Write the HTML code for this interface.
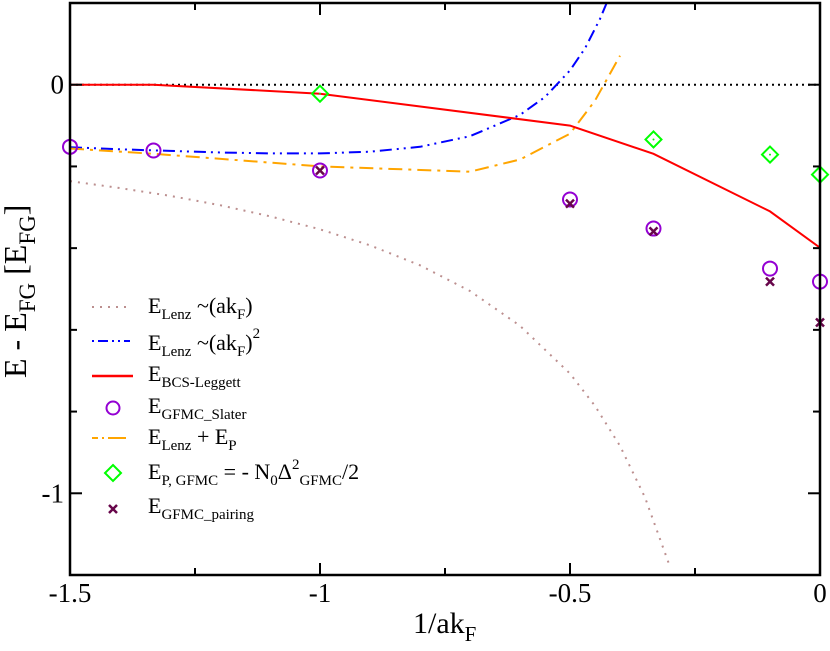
<!DOCTYPE html>
<html><head><meta charset="utf-8"><style>
body{margin:0;background:#fff}
svg text{font-family:"Liberation Serif",serif}
</style></head><body>
<svg id="chart" width="830" height="646" xmlns="http://www.w3.org/2000/svg">
<g id="plot"></g>
<g id="axes"></g>
<g id="legend"></g>
</svg>
<script>
const lenzX=[-1.5,-1.4,-1.3,-1.2,-1.1,-1.0,-0.9,-0.8,-0.7,-0.6,-0.5,-0.45,-0.4,-0.35,-0.3];
const lenzY=[-0.236,-0.253,-0.272,-0.295,-0.322,-0.354,-0.393,-0.442,-0.505,-0.590,-0.707,-0.786,-0.884,-1.01,-1.18];
const lenz2X=[-1.5,-1.4,-1.3,-1.2,-1.1,-1.0,-0.9,-0.8,-0.7,-0.6,-0.55,-0.5,-0.47,-0.44,-0.425];
const lenz2Y=[-0.153,-0.158,-0.162,-0.166,-0.168,-0.168,-0.164,-0.152,-0.126,-0.074,-0.030,0.035,0.089,0.161,0.205];
const bcsX=[-1.5,-1.333,-1.0,-0.5,-0.333,-0.1,0];
const bcsY=[0,0,-0.022,-0.1,-0.169,-0.31,-0.399];
const lpX=[-1.5,-1.333,-1.0,-0.7,-0.6,-0.5,-0.45,-0.4];
const lpY=[-0.156,-0.169,-0.2,-0.213,-0.183,-0.12,-0.039,0.071];
const slaterX=[-1.5,-1.333,-1.0,-0.5,-0.333,-0.1,0];
const slaterY=[-0.152,-0.161,-0.21,-0.281,-0.352,-0.45,-0.482];
const pairX=[-1.0,-0.5,-0.333,-0.1,0];
const pairY=[-0.21,-0.291,-0.359,-0.482,-0.582];
const gapX=[-1.0,-0.333,-0.1,0];
const gapY=[-0.022,-0.134,-0.171,-0.22];
const xTicks=[-1.5,-1,-0.5,0];
const xTickLabels=["-1.5","-1","-0.5","0"];
const yTicks=[0,-1];
const yTickLabels=["0","-1"];

const L=70,R=820,T=3,B=575,x0=-1.5,x1=0,y0=-1.2,y1=0.2;
const sx=v=>L+(v-x0)/(x1-x0)*(R-L);
const sy=v=>B-(v-y0)/(y1-y0)*(B-T);
const NS="http://www.w3.org/2000/svg";
function mk(tag,attrs,parent){const e=document.createElementNS(NS,tag);for(const k in attrs)e.setAttribute(k,attrs[k]);parent.appendChild(e);return e;}
const plot=document.getElementById('plot'),axes=document.getElementById('axes'),leg=document.getElementById('legend');
const clip=mk('clipPath',{id:'cp'},plot);mk('rect',{x:L,y:T,width:R-L,height:B-T},clip);
const pg=mk('g',{'clip-path':'url(#cp)'},plot);

let z=mk('line',{x1:L,y1:sy(0),x2:R,y2:sy(0),stroke:'#000','stroke-width':2,'stroke-dasharray':'2,4'},pg);



function line(xs,ys,color,dash,w,name){
  const d=xs.map((v,i)=>(i?'L':'M')+sx(v).toFixed(1)+','+sy(ys[i]).toFixed(1)).join('');
  const p=mk('path',{d:d,fill:'none',stroke:color,'stroke-width':w,'stroke-dasharray':dash},pg);
  
  
}
line(lenzX,lenzY,'#bc8f8f','2,6',2,'lenz-linear-line');
line(lenz2X,lenz2Y,'#0000ff','12,5,2,5,2,5',2,'lenz-quadratic-line');
line(lpX,lpY,'#ffa500','14,6,3,6',2,'lenz-plus-pairing-line');
line(bcsX,bcsY,'#ff0000','',2,'bcs-leggett-line');

function circle(cx,cy,g){return mk('circle',{cx:cx,cy:cy,r:7,fill:'none',stroke:'#9400d3','stroke-width':2},g);}
function diamond(cx,cy,g){const gg=mk('g',{},g);mk('path',{d:`M${cx},${cy-8}L${cx+8},${cy}L${cx},${cy+8}L${cx-8},${cy}Z`,fill:'none',stroke:'#00ff00','stroke-width':2},gg);mk('circle',{cx:cx,cy:cy,r:1,fill:'#00ff00'},gg);return gg;}
function cross(cx,cy,g){return mk('path',{d:`M${cx-4},${cy-4}L${cx+4},${cy+4}M${cx+4},${cy-4}L${cx-4},${cy+4}`,stroke:'#67064a','stroke-width':2.5},g);}
slaterX.forEach((v,i)=>{const c=circle(sx(v),sy(slaterY[i]),plot);
  
  });
gapX.forEach((v,i)=>{const c=diamond(sx(v),sy(gapY[i]),plot);
  
  });
pairX.forEach((v,i)=>{const c=cross(sx(v),sy(pairY[i]),plot);
  
  });

let fr=mk('rect',{x:L,y:T,width:R-L,height:B-T,fill:'none',stroke:'#000','stroke-width':2.5},axes);


for(let v=-1.5;v<=0.001;v+=0.25){const major=Math.abs(v*2-Math.round(v*2))<1e-6;const len=major?12:7;
  mk('line',{x1:sx(v),y1:B,x2:sx(v),y2:B-len,stroke:'#000','stroke-width':2},axes);
  mk('line',{x1:sx(v),y1:T,x2:sx(v),y2:T+len,stroke:'#000','stroke-width':2},axes);}
for(let v=-1.2;v<=0.201;v+=0.2){const major=Math.abs(v-Math.round(v))<1e-6;const len=major?12:7;
  mk('line',{x1:L,y1:sy(v),x2:L+len,y2:sy(v),stroke:'#000','stroke-width':2},axes);
  mk('line',{x1:R,y1:sy(v),x2:R-len,y2:sy(v),stroke:'#000','stroke-width':2},axes);}
xTicks.forEach((v,i)=>{const t=mk('text',{x:sx(v),y:602,'text-anchor':'middle','font-size':27},axes);t.textContent=xTickLabels[i];
  
  });
yTicks.forEach((v,i)=>{const t=mk('text',{x:64,y:sy(v)+9,'text-anchor':'end','font-size':27},axes);t.textContent=yTickLabels[i];
  
  });
</script>
<svg width="830" height="646" style="position:absolute;left:0;top:0" xmlns="http://www.w3.org/2000/svg">
<text x="413" y="633" font-size="30" font-family="Liberation Serif,serif">1/ak<tspan font-size="21" dy="8">F</tspan></text>
<text transform="translate(26,378) rotate(-90)" font-size="32" font-family="Liberation Serif,serif">E - E<tspan font-size="23" dy="9">FG</tspan><tspan dy="-9"> [E</tspan><tspan font-size="23" dy="9">FG</tspan><tspan dy="-9">]</tspan></text>
<g font-family="Liberation Serif,serif" font-size="22">
<g><line x1="92" y1="307" x2="130" y2="307" stroke="#bc8f8f" stroke-width="2" stroke-dasharray="2,6"/><text x="148" y="313">E<tspan font-size="15" dy="6">Lenz</tspan><tspan dy="-6"> ~(ak</tspan><tspan font-size="15" dy="6">F</tspan><tspan dy="-6">)</tspan></text></g>
<g><line x1="92" y1="341" x2="130" y2="341" stroke="#0000ff" stroke-width="2" stroke-dasharray="2,4,10,4,2,4"/><text x="148" y="350">E<tspan font-size="15" dy="6">Lenz</tspan><tspan dy="-6"> ~(ak</tspan><tspan font-size="15" dy="6">F</tspan><tspan dy="-6">)</tspan><tspan font-size="15" dy="-12">2</tspan></text></g>
<g><line x1="92" y1="376" x2="133" y2="376" stroke="#ff0000" stroke-width="2.5"/><text x="148" y="381">E<tspan font-size="15" dy="6">BCS-Leggett</tspan></text></g>
<g><circle cx="113" cy="408" r="6.5" fill="none" stroke="#9400d3" stroke-width="2"/><text x="148" y="413">E<tspan font-size="15" dy="6">GFMC_Slater</tspan></text></g>
<g><line x1="92" y1="438" x2="130" y2="438" stroke="#ffa500" stroke-width="2" stroke-dasharray="6,4,2,4,12,0"/><text x="148" y="444">E<tspan font-size="15" dy="6">Lenz</tspan><tspan dy="-6"> + E</tspan><tspan font-size="15" dy="6">P</tspan></text></g>
<g><path d="M113,465L121,473L113,481L105,473Z" fill="none" stroke="#00ff00" stroke-width="2"/><text x="148" y="479">E<tspan font-size="15" dy="6">P, GFMC</tspan><tspan dy="-6"> = - N</tspan><tspan font-size="15" dy="6">0</tspan><tspan dy="-6">Δ</tspan><tspan font-size="15" dy="-10">2</tspan><tspan font-size="15" dy="16">GFMC</tspan><tspan dy="-6">/2</tspan></text></g>
<g><path d="M109,505L117,513M117,505L109,513" stroke="#67064a" stroke-width="2.5"/><text x="148" y="513">E<tspan font-size="15" dy="6">GFMC_pairing</tspan></text></g>
</g>
</svg>
</body></html>
